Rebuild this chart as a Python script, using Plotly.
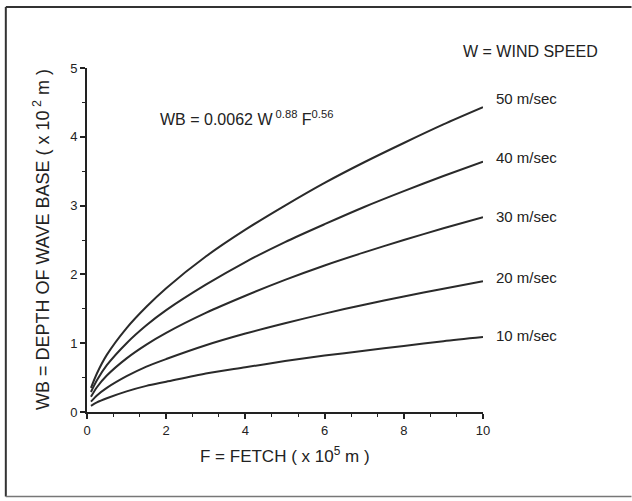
import plotly.graph_objects as go

# Fetch F (x 10^5 m) sample positions
fetch = [0.1, 0.25, 0.5, 1, 1.5, 2, 3, 4, 5, 6, 7, 8, 9, 10]

# Depth of wave base WB (x 10^2 m)
wb_50 = [0.35, 0.56, 0.83, 1.22, 1.53, 1.80, 2.26, 2.65, 3.00, 3.33, 3.63, 3.91, 4.18, 4.43]
wb_40 = [0.29, 0.46, 0.68, 1.00, 1.26, 1.48, 1.85, 2.18, 2.47, 2.73, 2.98, 3.21, 3.43, 3.64]
wb_30 = [0.22, 0.36, 0.53, 0.78, 0.98, 1.15, 1.44, 1.69, 1.92, 2.13, 2.32, 2.50, 2.67, 2.83]
wb_20 = [0.15, 0.24, 0.35, 0.52, 0.66, 0.77, 0.97, 1.14, 1.29, 1.43, 1.56, 1.68, 1.79, 1.90]
wb_10 = [0.09, 0.14, 0.20, 0.30, 0.38, 0.44, 0.56, 0.65, 0.74, 0.82, 0.89, 0.96, 1.03, 1.09]

series_names = ["50 m/sec", "40 m/sec", "30 m/sec", "20 m/sec", "10 m/sec"]
series_values = [wb_50, wb_40, wb_30, wb_20, wb_10]

x_ticks = [0, 2, 4, 6, 8, 10]
y_ticks = [0, 1, 2, 3, 4, 5]

FONT = "Liberation Sans, Arial, sans-serif"
INK = "#222"

fig = go.Figure()
label_shift = [9, 4, 1, 4, 2]
for name, vals, ys in zip(series_names, series_values, label_shift):
    fig.add_trace(go.Scatter(x=fetch, y=vals, mode="lines", name=name,
                             line=dict(color="#2a2a2a", width=2, shape="spline", smoothing=0.8),
                             showlegend=False, hoverinfo="skip"))
    fig.add_annotation(x=fetch[-1], y=vals[-1], xref="x", yref="y",
                       text=name, showarrow=False, xanchor="left", yanchor="middle",
                       xshift=11, yshift=ys,
                       font=dict(family=FONT, size=15, color=INK))

fig.add_annotation(x=(335 - 87) / 396, y=(412 - 118) / 344, xref="paper", yref="paper",
                   showarrow=False, xanchor="right", yanchor="middle",
                   text="WB = 0.0062 W<sup> 0.88</sup> F<sup>0.56</sup>",
                   font=dict(family=FONT, size=16, color=INK))
fig.add_annotation(x=(600 - 87) / 396, y=(412 - 52) / 344, xref="paper", yref="paper",
                   showarrow=False, xanchor="right", yanchor="middle",
                   text="W = WIND SPEED",
                   font=dict(family=FONT, size=16, color=INK))
fig.add_annotation(x=(41 - 87) / 396, y=0.5, xref="paper", yref="paper", showarrow=False,
                   xanchor="center", yanchor="middle", textangle=-90,
                   text="WB = DEPTH OF WAVE BASE ( x 10<sup> 2</sup> m )",
                   font=dict(family=FONT, size=18, color=INK))
fig.add_annotation(x=0.5, y=(412 - 455) / 344, xref="paper", yref="paper", showarrow=False,
                   xanchor="center", yanchor="middle",
                   text="F = FETCH ( x 10<sup>5</sup> m )",
                   font=dict(family=FONT, size=17, color=INK))

# outer frame (top, left, bottom edges)
frame = dict(color="#333", width=2)
fig.add_shape(type="line", xref="paper", yref="paper", x0=-0.205, x1=1.375, y0=1.177, y1=1.177, line=frame)
fig.add_shape(type="line", xref="paper", yref="paper", x0=-0.205, x1=-0.205, y0=1.177, y1=-0.246, line=frame)
fig.add_shape(type="line", xref="paper", yref="paper", x0=-0.205, x1=1.375, y0=-0.246, y1=-0.246,
              line=dict(color="#777", width=1.5))

fig.update_xaxes(range=[0, 10], tickvals=x_ticks, ticktext=[str(v) for v in x_ticks],
                 ticks="outside", ticklen=5, tickwidth=1.5, tickcolor=INK,
                 minor=dict(tickvals=[0.667, 1.333, 2.667, 3.333, 4.667, 5.333, 6.667, 7.333, 8.667, 9.333],
                            ticks="outside", ticklen=3, tickwidth=1.2, tickcolor=INK),
                 showline=True, linecolor=INK, linewidth=2, showgrid=False, zeroline=False,
                 tickfont=dict(family=FONT, size=13, color=INK))
fig.update_yaxes(range=[0, 5], tickvals=y_ticks, ticktext=[str(v) for v in y_ticks],
                 ticks="outside", ticklen=5, tickwidth=1.5, tickcolor=INK,
                 minor=dict(tickvals=[0.5, 1.5, 2.5, 3.5, 4.5],
                            ticks="outside", ticklen=3, tickwidth=1.2, tickcolor=INK),
                 showline=True, linecolor=INK, linewidth=2, showgrid=False, zeroline=False,
                 tickfont=dict(family=FONT, size=13, color=INK))

fig.update_layout(width=632, height=501, margin=dict(l=87, r=149, t=68, b=89),
                  paper_bgcolor="white", plot_bgcolor="white")

fig.write_html("out.html")
